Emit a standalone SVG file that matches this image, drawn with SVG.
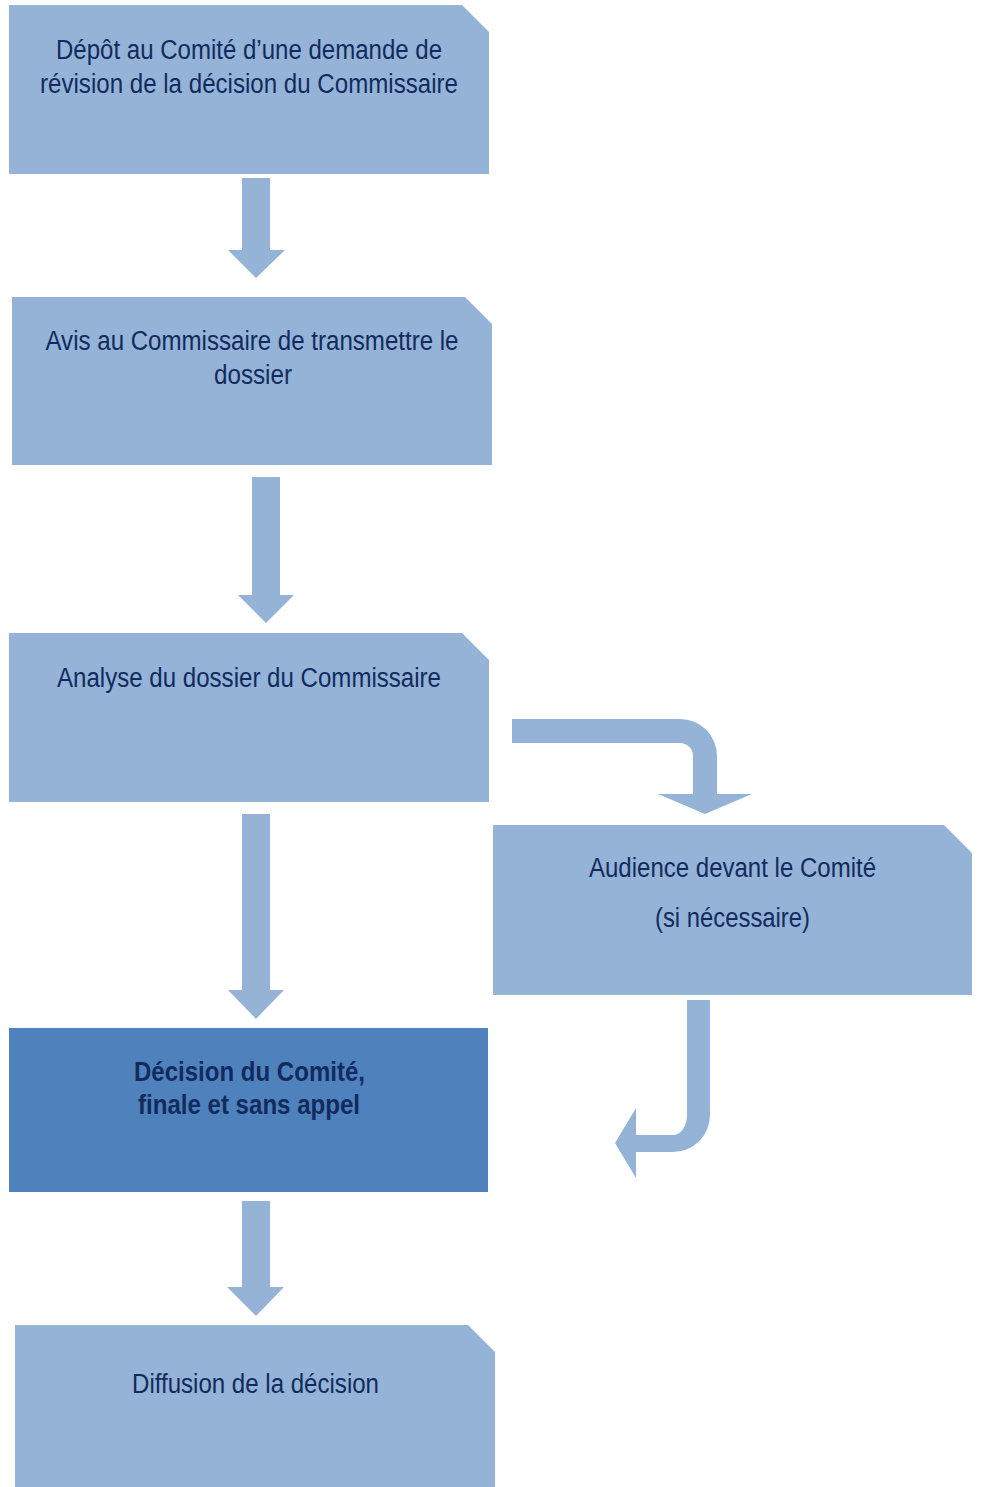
<svg xmlns="http://www.w3.org/2000/svg" width="981" height="1487" viewBox="0 0 981 1487">
<style>
.box{fill:#95b3d7}
.dark{fill:#4f81bd}
.arr{fill:#95b3d7}
text{font-family:'Liberation Sans Narrow','Liberation Sans',Arial,sans-serif;font-size:27px;fill:#112b5e;text-anchor:middle}
.b{font-weight:bold}
</style>
<rect width="981" height="1487" fill="#ffffff"/>
<g id="connectors">
<polygon class="arr" points="242,178 270,178 270,250 285,250 256,278 228,250 242,250"/>
<polygon class="arr" points="252,477 280,477 280,595 294,595 266,623 238,595 252,595"/>
<polygon class="arr" points="242,814 270,814 270,990 284,990 256,1019 228,990 242,990"/>
<polygon class="arr" points="242,1201 270,1201 270,1287 284,1287 256,1316 227,1287 242,1287"/>
<path class="arr" d="M512,719 L680,719 A37,37 0 0 1 717,756 L717,794 L752,794 L705,814 L658,794 L693,794 L693,756 A13,13 0 0 0 680,743 L512,743 Z"/>
<path class="arr" d="M687,1000 L710,1000 L710,1115 A37,37 0 0 1 673,1152 L636,1152 L636,1178 L615,1143 L636,1108 L636,1135 L673,1135 A14,20 0 0 0 687,1115 Z"/>
</g>
<g id="n1">
<polygon class="box" points="9,5 462,5 489,32 489,174 9,174"/>
<text x="249" y="59" textLength="386" lengthAdjust="spacingAndGlyphs">Dépôt au Comité d’une demande de</text>
<text x="249" y="93" textLength="418" lengthAdjust="spacingAndGlyphs">révision de la décision du Commissaire</text>
</g>
<g id="n2">
<polygon class="box" points="12,297 465,297 492,324 492,465 12,465"/>
<text x="252" y="350" textLength="413" lengthAdjust="spacingAndGlyphs">Avis au Commissaire de transmettre le</text>
<text x="253" y="384" textLength="78" lengthAdjust="spacingAndGlyphs">dossier</text>
</g>
<g id="n3">
<polygon class="box" points="9,633 462,633 489,660 489,802 9,802"/>
<text x="249" y="687" textLength="384" lengthAdjust="spacingAndGlyphs">Analyse du dossier du Commissaire</text>
</g>
<g id="n4">
<polygon class="box" points="493,825 944,825 972,853 972,995 493,995"/>
<text x="732.5" y="877" textLength="287" lengthAdjust="spacingAndGlyphs">Audience devant le Comité</text>
<text x="732.5" y="927" textLength="155" lengthAdjust="spacingAndGlyphs">(si nécessaire)</text>
</g>
<g id="n5">
<rect class="dark" x="9" y="1028" width="479" height="164"/>
<text class="b" x="249.5" y="1081" textLength="231" lengthAdjust="spacingAndGlyphs">Décision du Comité,</text>
<text class="b" x="249" y="1114" textLength="222" lengthAdjust="spacingAndGlyphs">finale et sans appel</text>
</g>
<g id="n6">
<polygon class="box" points="15,1325 468,1325 495,1352 495,1487 15,1487"/>
<text x="255.5" y="1393" textLength="247" lengthAdjust="spacingAndGlyphs">Diffusion de la décision</text>
</g>
</svg>
